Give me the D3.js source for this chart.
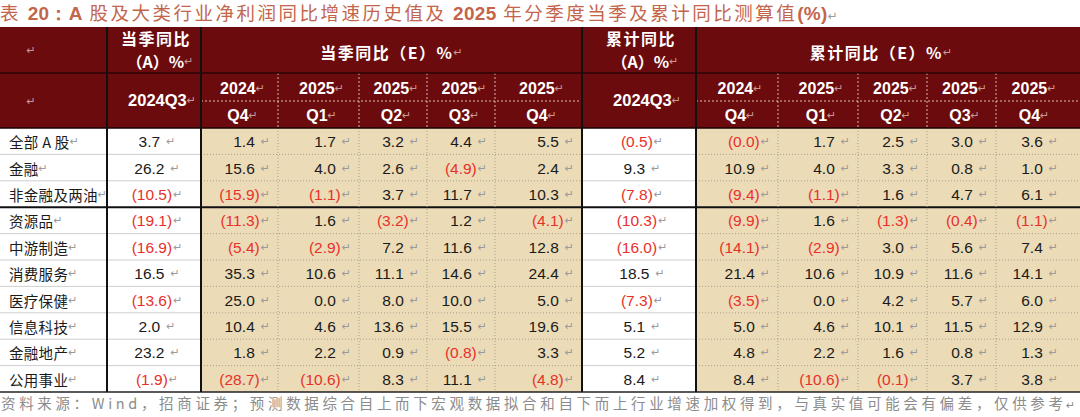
<!DOCTYPE html>
<html><head><meta charset="utf-8">
<script src="https://cdn.jsdelivr.net/npm/d3@7"></script>
<style>body{margin:0;background:#fff}svg{display:block}</style>
</head><body>
<script>
// ---------- DATA ----------
const categories = ["全部 A 股","金融","非金融及两油","资源品","中游制造","消费服务","医疗保健","信息科技","金融地产","公用事业"];
const yearLabels = ["2024","2025","2025","2025","2025"];
const quarterLabels = ["Q4","Q1","Q2","Q3","Q4"];
const actualLabel = "2024Q3";
const qtrActual = [3.7, 26.2, -10.5, -19.1, -16.9, 16.5, -13.6, 2.0, 23.2, -1.9];
const qtr2024Q4 = [1.4, 15.6, -15.9, -11.3, -5.4, 35.3, 25.0, 10.4, 1.8, -28.7];
const qtr2025Q1 = [1.7, 4.0, -1.1, 1.6, -2.9, 10.6, 0.0, 4.6, 2.2, -10.6];
const qtr2025Q2 = [3.2, 2.6, 3.7, -3.2, 7.2, 11.1, 8.0, 13.6, 0.9, 8.3];
const qtr2025Q3 = [4.4, -4.9, 11.7, 1.2, 11.6, 14.6, 10.0, 15.5, -0.8, 11.1];
const qtr2025Q4 = [5.5, 2.4, 10.3, -4.1, 12.8, 24.4, 5.0, 19.6, 3.3, -4.8];
const cumActual = [-0.5, 9.3, -7.8, -10.3, -16.0, 18.5, -7.3, 5.1, 5.2, 8.4];
const cum2024Q4 = [-0.0, 10.9, -9.4, -9.9, -14.1, 21.4, -3.5, 5.0, 4.8, 8.4];
const cum2025Q1 = [1.7, 4.0, -1.1, 1.6, -2.9, 10.6, 0.0, 4.6, 2.2, -10.6];
const cum2025Q2 = [2.5, 3.3, 1.6, -1.3, 3.0, 10.9, 4.2, 10.1, 1.6, -0.1];
const cum2025Q3 = [3.0, 0.8, 4.7, -0.4, 5.6, 11.6, 5.7, 11.5, 0.8, 3.7];
const cum2025Q4 = [3.6, 1.0, 6.1, -1.1, 7.4, 14.1, 6.0, 12.9, 1.3, 3.8];
const titleParts = [["表 ",0],["20：",1],["A",1],[" 股及大类行业净利润同比增速历史值及 ",0],["2025",1],[" 年分季度当季及累计同比测算值",0],["(%)",1]];
const footerText = "资料来源：Wind，招商证券；预测数据综合自上而下宏观数据拟合和自下而上行业增速加权得到，与真实值可能会有偏差，仅供参考";

// ---------- LAYOUT ----------
const W = 1080, H = 417;
const edges = [0,107,201,278,359,427,495,582,696,778,858,927,996,1066];
const hTop = 27, hMid1 = 73, hMid2 = 101, bTop = 128, bBot = 392;
const C = {hdr:"#6c0b0d", beige:"#ecdbb7", red:"#e8302b", txt:"#1a1a1a", ret:"#9a9a9a", hret:"#c79a9a", title:"#c3654b", foot:"#8c8c8c"};
const columns = [
  {type:"label"},
  {type:"act", data:qtrActual},
  {type:"est", data:qtr2024Q4},{type:"est", data:qtr2025Q1},{type:"est", data:qtr2025Q2},{type:"est", data:qtr2025Q3},{type:"est", data:qtr2025Q4},
  {type:"act", data:cumActual},
  {type:"est", data:cum2024Q4},{type:"est", data:cum2025Q1},{type:"est", data:cum2025Q2},{type:"est", data:cum2025Q3},{type:"est", data:cum2025Q4}
];
const y = d3.scaleBand().domain(categories).range([bTop, bBot]);
const xL = i => edges[i];
const isNeg = v => v < 0 || Object.is(v, -0);
const fmt = v => isNeg(v) ? "(" + Math.abs(v).toFixed(1) + ")" : v.toFixed(1);

const svg = d3.select("body").append("svg").attr("width", W).attr("height", H);
const NUM = "'Liberation Sans', Arial, sans-serif";
const CJK = "'Noto Sans CJK SC', sans-serif";

// Title
const t = svg.append("text").attr("x", 0).attr("y", 20).attr("font-size", 18.5).attr("fill", C.title)
  .attr("font-family", CJK);
titleParts.forEach(([s,b]) => t.append("tspan").attr("font-weight", b ? "bold" : "normal")
  .attr("font-family", b ? NUM : CJK).attr("font-size", b ? 19 : 18.5).attr("letter-spacing", b ? 0.3 : 2.5).text(s));
t.append("tspan").attr("font-size", 12).attr("fill", C.ret).attr("font-family", "DejaVu Sans").attr("letter-spacing", 0).text("↵");

// Backgrounds
svg.append("rect").attr("x", 0).attr("y", hTop).attr("width", W).attr("height", bTop - hTop).attr("fill", C.hdr);
svg.append("rect").attr("x", xL(2)).attr("y", bTop).attr("width", xL(7) - xL(2)).attr("height", bBot - bTop).attr("fill", C.beige);
svg.append("rect").attr("x", xL(8)).attr("y", bTop).attr("width", W - xL(8)).attr("height", bBot - bTop).attr("fill", C.beige);

// Lines
const line = (x1,y1,x2,y2,stroke,w,dash) => svg.append("line").attr("x1",x1).attr("y1",y1).attr("x2",x2).attr("y2",y2)
  .attr("stroke",stroke).attr("stroke-width",w).attr("stroke-dasharray",dash||null);
categories.forEach((c, i) => {
  if (i === 0) return;
  const yy = y(c);
  if (i === 3) { line(0, yy, W, yy, "#111", 2); return; }
  line(0, yy, xL(2), yy, "#cfcfcf", 1);
  line(xL(7), yy, xL(8), yy, "#cfcfcf", 1);
  line(xL(2), yy, xL(7), yy, "#a8a08c", 1, "1,2");
  line(xL(8), yy, W, yy, "#a8a08c", 1, "1,2");
});
[3,4,5,6,9,10,11,12].forEach(i => {
  line(xL(i), hMid1, xL(i), bTop, "#d9b0b0", 1, "2,2");
  line(xL(i), bTop, xL(i), bBot, "#a8a08c", 1, "1,2");
});
line(xL(2), hMid2, xL(7), hMid2, "#e0b8b8", 1, "2,2");
line(xL(8), hMid2, W, hMid2, "#e0b8b8", 1, "2,2");
line(0, hMid1, W, hMid1, "#2a0404", 1.5);
line(0, bTop, W, bTop, "#1a0202", 1.5);
line(0, bBot, W, bBot, "#222", 1.5);
[1,2,7,8].forEach(i => line(xL(i), hTop, xL(i), bBot, "#111", 2));

// Header text
const hdrTxt = (x, yy, s, size, ret) => {
  const tx = svg.append("text").attr("x", x).attr("y", yy).attr("text-anchor", "middle")
    .attr("dominant-baseline", "central").attr("fill", "#fff").attr("font-weight", "bold")
    .attr("font-size", size).attr("font-family", /[\u4e00-\u9fff（]/.test(s) ? CJK : NUM);
  tx.append("tspan").text(s);
  if (ret !== false) tx.append("tspan").attr("font-size", 11).attr("font-weight", "normal").attr("fill", C.hret).attr("font-family", "DejaVu Sans").attr("letter-spacing", 0).text("↵");
  return tx;
};
hdrTxt(31, 50, "", 14);
hdrTxt(31, 101, "", 14);
[[1,"当季同比"],[7,"累计同比"]].forEach(([i,a]) => {
  const cx = (xL(i) + xL(i+1)) / 2;
  hdrTxt(cx + 2, 38, a, 16, false).attr("letter-spacing", 1.5);
  hdrTxt(cx + 6, 61, "（A）%", 16);
  hdrTxt(cx + 8, 100, actualLabel, 16.5);
});
hdrTxt((xL(2) + xL(7)) / 2, 52, "当季同比（E）%", 16).attr("letter-spacing", 1.5);
hdrTxt((xL(8) + xL(13)) / 2, 52, "累计同比（E）%", 16).attr("letter-spacing", 1.5);
[2,3,4,5,6,8,9,10,11,12].forEach(i => {
  const k = i < 7 ? i - 2 : i - 8;
  const cx = (xL(i) + xL(i+1)) / 2;
  hdrTxt(cx + 3, 88, yearLabels[k], 16);
  hdrTxt(cx + 3, 115, quarterLabels[k], 16);
});

// Body text
categories.forEach((c, r) => {
  const cy = y(c) + y.bandwidth() / 2;
  const lt = svg.append("text").attr("x", 9).attr("y", cy).attr("dominant-baseline", "central")
    .attr("font-size", 14.5).attr("font-family", CJK).attr("fill", C.txt).attr("letter-spacing", 0.3);
  lt.append("tspan").text(c);
  lt.append("tspan").attr("font-size", 11).attr("fill", C.ret).attr("font-family", "DejaVu Sans").attr("letter-spacing", 0).text("↵");
  columns.forEach((col, i) => {
    if (col.type === "label") return;
    const v = col.data[r], neg = isNeg(v);
    const tx = svg.append("text").attr("y", cy).attr("dominant-baseline", "central")
      .attr("font-size", 15.5).attr("font-family", NUM);
    if (col.type === "act") tx.attr("x", (xL(i) + xL(i+1)) / 2 + 3).attr("text-anchor", "middle");
    else tx.attr("x", xL(i+1) - 8).attr("text-anchor", "end");
    tx.append("tspan").attr("fill", neg ? C.red : C.txt).text(fmt(v));
    tx.append("tspan").attr("dx", neg ? 1 : 6).attr("font-size", 11).attr("fill", C.ret).attr("font-family", "DejaVu Sans").text("↵");
  });
});

// Footer
svg.append("text").attr("x", 1).attr("y", 409).attr("font-size", 14.5).attr("fill", C.foot)
  .attr("font-family", CJK).attr("textLength", 1062).attr("lengthAdjust", "spacing").text(footerText);
svg.append("text").attr("x", 1066).attr("y", 409).attr("font-size", 11).attr("fill", C.foot).attr("font-family", "DejaVu Sans").text("↵");
</script>
</body></html>
